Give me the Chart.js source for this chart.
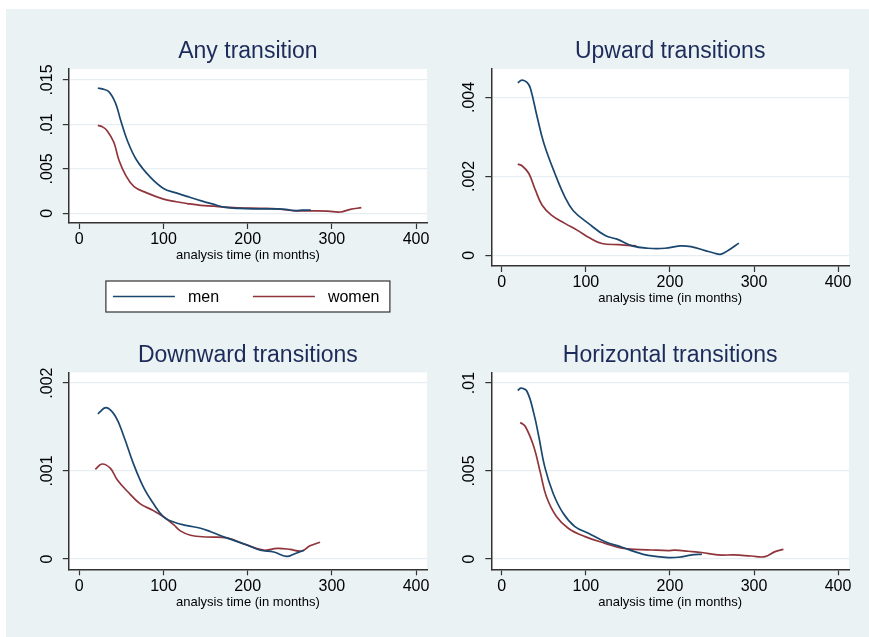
<!DOCTYPE html>
<html>
<head>
<meta charset="utf-8">
<script src="https://cdn.jsdelivr.net/npm/chart.js@4.4.1/dist/chart.umd.min.js"></script>
<style>
  body { margin: 0; background: #ffffff; }
  #page { position: relative; width: 869px; height: 637px; overflow: hidden; }
  #bg { position: absolute; left: 6px; top: 9px; width: 863px; height: 628px; background: #eaf2f3; }
  canvas { position: absolute; }
</style>
</head>
<body>
<div id="page">
  <div id="bg"></div>
  <canvas id="c1" width="429" height="311" style="left:6px;top:9px"></canvas>
  <canvas id="c2" width="434" height="311" style="left:435px;top:9px"></canvas>
  <canvas id="c3" width="429" height="317" style="left:6px;top:320px"></canvas>
  <canvas id="c4" width="434" height="317" style="left:435px;top:320px"></canvas>
</div>
<script>
// values
var xTicks = [0, 100, 200, 300, 400];
var seriesNames = ['men', 'women'];

// Any transition
var anyMenX = [22, 27, 35, 43, 49, 57, 68, 84, 100, 115, 128, 145, 160, 172, 190, 210, 230, 245, 256, 265, 275];
var anyMenY = [.0141, .0140, .0137, .0124, .0105, .0082, .0060, .0041, .0028, .0023, .0019, .0014, .0010, .0007, .00055, .0005, .0005, .00045, .0003, .00035, .00037];
var anyWomenX = [22, 28, 33, 41, 47, 55, 65, 80, 100, 115, 128, 144, 160, 171, 190, 215, 235, 254, 275, 295, 310, 322, 335];
var anyWomenY = [.0099, .0097, .0093, .0080, .0060, .0043, .0030, .0023, .0016, .0013, .0011, .0009, .0008, .0007, .00062, .00056, .0005, .0003, .00028, .00025, .00015, .00045, .00063];
var anyTicks = [0, .005, .01, .015];
var anyTickLabels = ['0', '.005', '.01', '.015'];

// Upward transitions
var upMenX = [19, 24, 30, 34, 42, 50, 63, 75, 85, 103, 123, 137, 155, 174, 194, 212, 225, 242, 252, 261, 271, 282];
var upMenY = [.00437, .00444, .00438, .00423, .00351, .00284, .00208, .00148, .00113, .00081, .0005, .00041, .00024, .00018, .00018, .00024, .00022, .00012, .00006, .00003, .00015, .00031];
var upWomenX = [19, 24, 32, 40, 48, 59, 75, 91, 103, 119, 139, 160];
var upWomenY = [.00231, .00227, .00208, .00165, .00127, .00102, .00081, .00062, .00046, .0003, .00027, .00024];
var upTicks = [0, .002, .004];
var upTickLabels = ['0', '.002', '.004'];

// Downward transitions
var downMenX = [22, 32, 43, 53, 64, 76, 88, 100, 112, 128, 144, 156, 175, 199, 215, 231, 246, 256, 267];
var downMenY = [.00165, .00172, .00162, .00139, .00109, .00082, .00063, .00048, .00042, .00038, .00035, .00031, .00024, .00016, .0001, .00008, .00003, .00006, .0001];
var downWomenX = [19, 27, 37, 45, 57, 72, 88, 100, 112, 120, 132, 152, 175, 199, 219, 235, 250, 264, 274, 286];
var downWomenY = [.00102, .00108, .00103, .0009, .00077, .00063, .00055, .00048, .00039, .00032, .00027, .00025, .00024, .00016, .0001, .00012, .00011, .00009, .00015, .00019];
var downTicks = [0, .001, .002];
var downTickLabels = ['0', '.001', '.002'];

// Horizontal transitions
var horMenX = [19, 23, 30, 38, 44, 51, 61, 73, 87, 103, 123, 143, 158, 174, 198, 210, 226, 238];
var horMenY = [.00958, .00971, .00952, .00829, .00696, .00525, .00374, .0026, .00184, .00146, .00098, .00067, .00042, .00021, .00008, .0001, .00023, .00028];
var horWomenX = [22, 28, 38, 46, 53, 65, 79, 99, 123, 143, 158, 178, 198, 206, 222, 238, 257, 277, 297, 313, 325, 335];
var horWomenY = [.00776, .00753, .00639, .00488, .00355, .00241, .00175, .00127, .00089, .00061, .00055, .00051, .00048, .0005, .00044, .00037, .00023, .00023, .00017, .00013, .00042, .00055];
var horTicks = [0, .005, .01];
var horTickLabels = ['0', '.005', '.01'];

var FONT = '"Liberation Sans", Arial, sans-serif';
var navy = '#1a476f';
var maroon = '#90353b';

function pts(xs, ys) {
  return xs.map(function (x, i) { return { x: x, y: ys[i] }; });
}

// white plot region like Stata's plotregion
var plotBg = {
  id: 'plotBg',
  beforeDraw: function (chart) {
    var a = chart.chartArea, ctx = chart.ctx;
    ctx.save();
    ctx.fillStyle = '#ffffff';
    ctx.fillRect(a.left, a.top, a.right - a.left, a.bottom - a.top);
    ctx.restore();
  }
};

// boxed legend under the first panel
var boxLegend = {
  id: 'boxLegend',
  afterDraw: function (chart) {
    var ctx = chart.ctx, a = chart.chartArea;
    var cx = (a.left + a.right) / 2;
    var left = cx - 142, top = chart.scales.x.bottom + 17.4, w = 284, h = 31;
    ctx.save();
    ctx.fillStyle = '#ffffff';
    ctx.fillRect(left, top, w, h);
    ctx.strokeStyle = '#333333';
    ctx.lineWidth = 1.2;
    ctx.strokeRect(left, top, w, h);
    var offs = [7, 147];
    ctx.font = '16px ' + FONT;
    ctx.textBaseline = 'middle';
    ctx.textAlign = 'left';
    chart.data.datasets.forEach(function (ds, i) {
      var y = top + h / 2;
      ctx.strokeStyle = ds.borderColor;
      ctx.lineWidth = 1.6;
      ctx.beginPath();
      ctx.moveTo(left + offs[i], y);
      ctx.lineTo(left + offs[i] + 62, y);
      ctx.stroke();
      ctx.fillStyle = '#000000';
      ctx.fillText(ds.label, left + offs[i] + 75, y + 1);
    });
    ctx.restore();
  }
};

function makePanel(id, title, menX, menY, womenX, womenY, yMin, yMax, yTicks, yLabels, pad, yWidth, withLegend) {
  return new Chart(document.getElementById(id), {
    type: 'line',
    data: {
      datasets: [
        { label: seriesNames[0], data: pts(menX, menY), borderColor: navy, borderWidth: 1.7, pointRadius: 0, tension: 0.4, fill: false },
        { label: seriesNames[1], data: pts(womenX, womenY), borderColor: maroon, borderWidth: 1.7, pointRadius: 0, tension: 0.4, fill: false }
      ]
    },
    options: {
      responsive: false,
      animation: false,
      events: [],
      layout: { padding: pad },
      plugins: {
        legend: { display: false },
        tooltip: { enabled: false },
        title: {
          display: true,
          text: title,
          fullSize: false,
          color: '#1c2b5a',
          font: { family: FONT, size: 23, weight: 'normal', lineHeight: 1.2 },
          padding: { top: 0, bottom: 3.4 }
        }
      },
      scales: {
        x: {
          type: 'linear',
          min: -12.5,
          max: 413,
          afterBuildTicks: function (s) { s.ticks = xTicks.map(function (v) { return { value: v }; }); },
          afterFit: function (s) { s.height = 40.6; },
          grid: { drawOnChartArea: false, tickLength: 6, tickColor: '#333333', tickWidth: 1.2 },
          border: { color: '#333333', width: 1.5 },
          ticks: { color: '#000000', padding: 3, font: { family: FONT, size: 16, lineHeight: 1 } },
          title: {
            display: true,
            text: 'analysis time (in months)',
            color: '#000000',
            padding: 0,
            font: { family: FONT, size: 13, lineHeight: 1.2 }
          }
        },
        y: {
          type: 'linear',
          min: yMin,
          max: yMax,
          afterBuildTicks: function (s) { s.ticks = yTicks.map(function (v) { return { value: v }; }); },
          afterFit: function (s) { s.width = yWidth; },
          grid: { color: '#e6eef1', lineWidth: 1.2, tickLength: 6, tickColor: '#333333', tickWidth: 1.2 },
          border: { color: '#333333', width: 1.5 },
          ticks: {
            color: '#000000',
            padding: 0,
            minRotation: 90,
            maxRotation: 90,
            crossAlign: 'center',
            font: { family: FONT, size: 16, lineHeight: 1 },
            callback: function (v, i) { return yLabels[i]; }
          }
        }
      }
    },
    plugins: withLegend ? [plotBg, boxLegend] : [plotBg]
  });
}

makePanel('c1', 'Any transition', anyMenX, anyMenY, anyWomenX, anyWomenY,
  -0.00109, 0.01624, anyTicks, anyTickLabels,
  { top: 29, right: 8, bottom: 56.4, left: 0 }, 62.8, true);
makePanel('c2', 'Upward transitions', upMenX, upMenY, upWomenX, upWomenY,
  -0.00027, 0.00472, upTicks, upTickLabels,
  { top: 29, right: 20, bottom: 13.4, left: 0 }, 56.3, false);
makePanel('c3', 'Downward transitions', downMenX, downMenY, downWomenX, downWomenY,
  -0.000117, 0.00212, downTicks, downTickLabels,
  { top: 21.5, right: 8, bottom: 27.1, left: 0 }, 62.8, false);
makePanel('c4', 'Horizontal transitions', horMenX, horMenY, horWomenX, horWomenY,
  -0.000586, 0.0106, horTicks, horTickLabels,
  { top: 21.5, right: 20, bottom: 27.1, left: 0 }, 56.3, false);
</script>
</body>
</html>
